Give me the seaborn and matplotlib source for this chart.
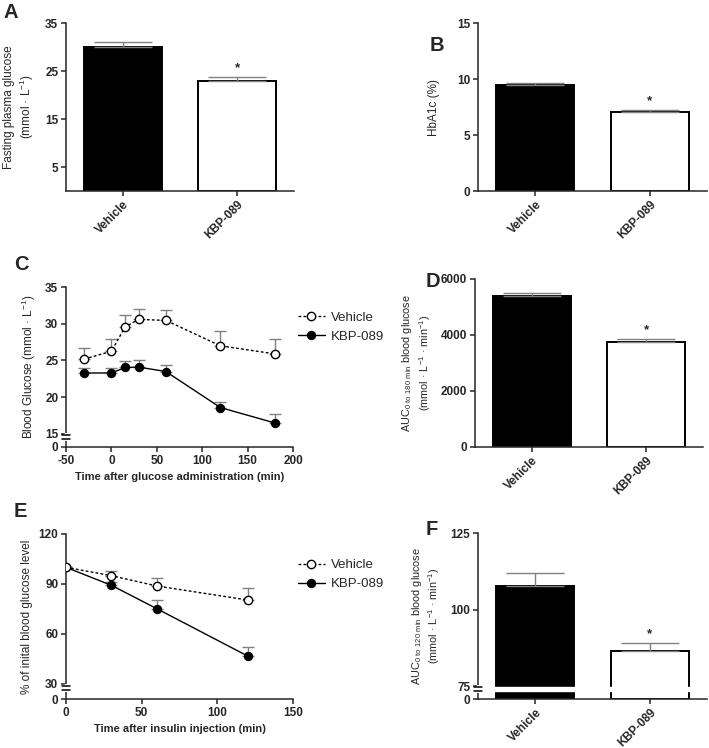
import numpy as np
import pandas as pd
import matplotlib
matplotlib.use("Agg")
import matplotlib.pyplot as plt
import matplotlib.transforms as mtransforms
import seaborn as sns

# -----------------------------
# Data
# -----------------------------
groups = ["Vehicle", "KBP-089"]

# A: fasting plasma glucose
fpg = [29.9, 23.0]
fpg_err = [1.1, 0.85]

# B: HbA1c
hba1c = [9.46, 7.02]
hba1c_err = [0.21, 0.18]

# C: OGTT time course
t_ogtt = [-30, 0, 15, 30, 60, 120, 180]
veh_ogtt = [25.2, 26.25, 29.55, 30.6, 30.45, 27.0, 25.9]
veh_ogtt_err = [1.55, 1.65, 1.65, 1.35, 1.4, 2.0, 2.0]
kbp_ogtt = [23.3, 23.3, 24.05, 24.1, 23.5, 18.6, 16.5]
kbp_ogtt_err = [0.7, 0.7, 0.85, 0.9, 0.85, 0.8, 1.2]

# D: AUC OGTT
auc_ogtt = [5380, 3740]
auc_ogtt_err = [120, 110]

# E: ITT time course
t_itt = [0, 30, 60, 120]
veh_itt = [100, 95, 88.8, 80.4]
veh_itt_err = [0, 3.0, 4.8, 7.2]
kbp_itt = [100, 89.2, 75.2, 46.8]
kbp_itt_err = [0, 2.0, 5.2, 5.4]

# F: AUC ITT
auc_itt = [107.7, 86.6]
auc_itt_err = [4.3, 2.4]

# -----------------------------
# Style
# -----------------------------
sns.set_style("ticks")
plt.rcParams["font.family"] = ["Liberation Sans", "DejaVu Sans"]
plt.rcParams["mathtext.default"] = "regular"
plt.rcParams["axes.unicode_minus"] = False
plt.rcParams["axes.linewidth"] = 1.1
plt.rcParams["xtick.major.width"] = 1.1
plt.rcParams["ytick.major.width"] = 1.1
plt.rcParams["xtick.major.size"] = 3.5
plt.rcParams["ytick.major.size"] = 3.5
plt.rcParams["xtick.major.pad"] = 2
plt.rcParams["ytick.major.pad"] = 2

W, H = 709, 748
TICK_FS = 8.5
LAB_FS = 8.5
ERR_C = "#808080"


def rect(x0, x1, y0, y1):
    return [x0 / W, 1 - y1 / H, (x1 - x0) / W, (y1 - y0) / H]


def broken_scale(lo, k):
    def fwd(y):
        y = np.asarray(y, dtype=float)
        return np.where(y >= lo, y, lo - (lo - y) * k)

    def inv(y):
        y = np.asarray(y, dtype=float)
        return np.where(y >= lo, y, lo - (lo - y) / k)

    return fwd, inv


def draw_break(ax, y_hi, y_lo, half=0.016):
    trans = mtransforms.blended_transform_factory(ax.transAxes, ax.transData)
    ax.plot([0, 0], [y_lo, y_hi], color="white", lw=3, transform=trans,
            clip_on=False, zorder=5)
    for yy in (y_hi, y_lo):
        ax.plot([-half, half], [yy, yy], color="black", lw=1.1,
                transform=trans, clip_on=False, zorder=6)


def style_axes(ax):
    sns.despine(ax=ax)
    for lab in ax.get_xticklabels() + ax.get_yticklabels():
        lab.set_fontweight("bold")
        lab.set_fontsize(TICK_FS)


def bar_panel(ax, vals, errs, capsize=21):
    df = pd.DataFrame({"group": groups, "value": vals})
    sns.barplot(data=df, x="group", y="value", hue="group",
                palette=["black", "white"], edgecolor="black", linewidth=1.4,
                width=0.68, errorbar=None, legend=False, ax=ax)
    pos = np.arange(len(groups))
    ax.errorbar(pos, vals, yerr=[np.zeros(len(vals)), errs], fmt="none",
                ecolor=ERR_C, elinewidth=1.0, capsize=capsize, capthick=1.0,
                zorder=1)
    ax.annotate("*", (pos[1], vals[1] + errs[1]), xytext=(0, 2),
                textcoords="offset points", ha="center", va="bottom",
                fontsize=9.5, fontweight="bold")
    ax.set_xlim(-0.5, 1.5)
    ax.set_xlabel("")
    ax.set_xticks(pos)
    ax.set_xticklabels(groups, rotation=45, ha="right",
                       rotation_mode="anchor")


def line_panel(ax, t, veh, veh_err, kbp, kbp_err, capsize=4):
    ax.errorbar(t, veh, yerr=[np.zeros(len(veh)), veh_err], fmt="none",
                ecolor=ERR_C, elinewidth=1.0, capsize=capsize, capthick=1.0,
                zorder=1)
    ax.errorbar(t, kbp, yerr=[np.zeros(len(kbp)), kbp_err], fmt="none",
                ecolor=ERR_C, elinewidth=1.0, capsize=capsize, capthick=1.0,
                zorder=1)
    sns.lineplot(x=t, y=kbp, ax=ax, color="black", lw=1.0, marker="o",
                 markersize=6, markerfacecolor="black",
                 markeredgecolor="black", label="KBP-089", zorder=3)
    sns.lineplot(x=t, y=veh, ax=ax, color="black", lw=1.0,
                 linestyle=(0, (2, 1.6)), marker="o", markersize=6,
                 markerfacecolor="white", markeredgecolor="black",
                 markeredgewidth=1.0, label="Vehicle", zorder=4)
    handles, labels = ax.get_legend_handles_labels()
    order = [labels.index("Vehicle"), labels.index("KBP-089")]
    ax.legend([handles[i] for i in order], [labels[i] for i in order],
              loc="upper left", bbox_to_anchor=(1.0, 0.88), frameon=False,
              fontsize=9.5, handlelength=2.0, handletextpad=0.5,
              borderaxespad=0, labelspacing=0.5)


fig = plt.figure(figsize=(W / 100, H / 100), dpi=100)

# -----------------------------
# A
# -----------------------------
axA = fig.add_axes(rect(66, 294, 23, 191))
bar_panel(axA, fpg, fpg_err)
axA.set_ylim(0, 35)
axA.set_yticks([5, 15, 25, 35])
axA.set_ylabel("Fasting plasma glucose\n(mmol · L$^{-1}$)", fontsize=LAB_FS,
               labelpad=6.5)
style_axes(axA)

# -----------------------------
# B
# -----------------------------
axB = fig.add_axes(rect(478, 707, 23, 191))
bar_panel(axB, hba1c, hba1c_err)
axB.set_ylim(0, 15)
axB.set_yticks([0, 5, 10, 15])
axB.set_ylabel("HbA1c (%)", fontsize=LAB_FS, labelpad=12.5)
style_axes(axB)

# -----------------------------
# C
# -----------------------------
axC = fig.add_axes(rect(66, 293, 287, 447))
axC.set_yscale("function", functions=broken_scale(15, 0.118))
line_panel(axC, t_ogtt, veh_ogtt, veh_ogtt_err, kbp_ogtt, kbp_ogtt_err)
axC.set_xlim(-50, 200)
axC.set_xticks([-50, 0, 50, 100, 150, 200])
axC.set_ylim(0, 35)
axC.set_yticks([0, 15, 20, 25, 30, 35])
axC.set_yticklabels(["0", "15", "20", "25", "30", "35"])
axC.set_xlabel("Time after glucose administration (min)", fontsize=8,
               fontweight="bold", labelpad=4)
axC.set_ylabel("Blood Glucose (mmol · L$^{-1}$)", fontsize=LAB_FS,
               labelpad=5)
style_axes(axC)
draw_break(axC, 13.5, 9.6)

# -----------------------------
# D
# -----------------------------
axD = fig.add_axes(rect(475, 703, 279, 447))
bar_panel(axD, auc_ogtt, auc_ogtt_err)
axD.set_ylim(0, 6000)
axD.set_yticks([0, 2000, 4000, 6000])
axD.set_ylabel("AUC$_{0\\ to\\ 180\\ min}$ blood glucose\n"
               "(mmol · L$^{-1}$ · min$^{-1}$)", fontsize=7.8, labelpad=6)
style_axes(axD)

# -----------------------------
# E
# -----------------------------
axE = fig.add_axes(rect(66, 293, 534, 699))
axE.set_yscale("function", functions=broken_scale(30, 0.3))
line_panel(axE, t_itt, veh_itt, veh_itt_err, kbp_itt, kbp_itt_err)
axE.set_xlim(0, 150)
axE.set_xticks([0, 50, 100, 150])
axE.set_ylim(0, 120)
axE.set_yticks([0, 30, 60, 90, 120])
axE.set_yticklabels(["0", "30", "60", "90", "120"])
axE.set_xlabel("Time after insulin injection (min)", fontsize=8,
               fontweight="bold", labelpad=4)
axE.set_ylabel("% of inital blood glucose level", fontsize=LAB_FS,
               labelpad=4)
style_axes(axE)
draw_break(axE, 26, 18)

# -----------------------------
# F
# -----------------------------
axF = fig.add_axes(rect(478, 707, 533, 699))
axF.set_yscale("function", functions=broken_scale(75, 0.0566))
bar_panel(axF, auc_itt, auc_itt_err)
axF.set_ylim(0, 125)
axF.set_yticks([0, 75, 100, 125])
axF.set_yticklabels(["0", "75", "100", "125"])
axF.axhspan(47.8, 67.5, color="white", zorder=4)
axF.set_ylabel("AUC$_{0\\ to\\ 120\\ min}$ blood glucose\n"
               "(mmol · L$^{-1}$ · min$^{-1}$)", fontsize=7.8, labelpad=6)
style_axes(axF)
draw_break(axF, 67.5, 47.8)

# -----------------------------
# Panel letters
# -----------------------------
for letter, x, y in [("A", 4, 3), ("B", 430, 36), ("C", 14, 255),
                     ("D", 426, 272), ("E", 14, 502), ("F", 426, 520)]:
    fig.text(x / W, 1 - y / H, letter, fontsize=14.5, fontweight="bold",
             ha="left", va="top")

fig.savefig("out.png", dpi=100)
